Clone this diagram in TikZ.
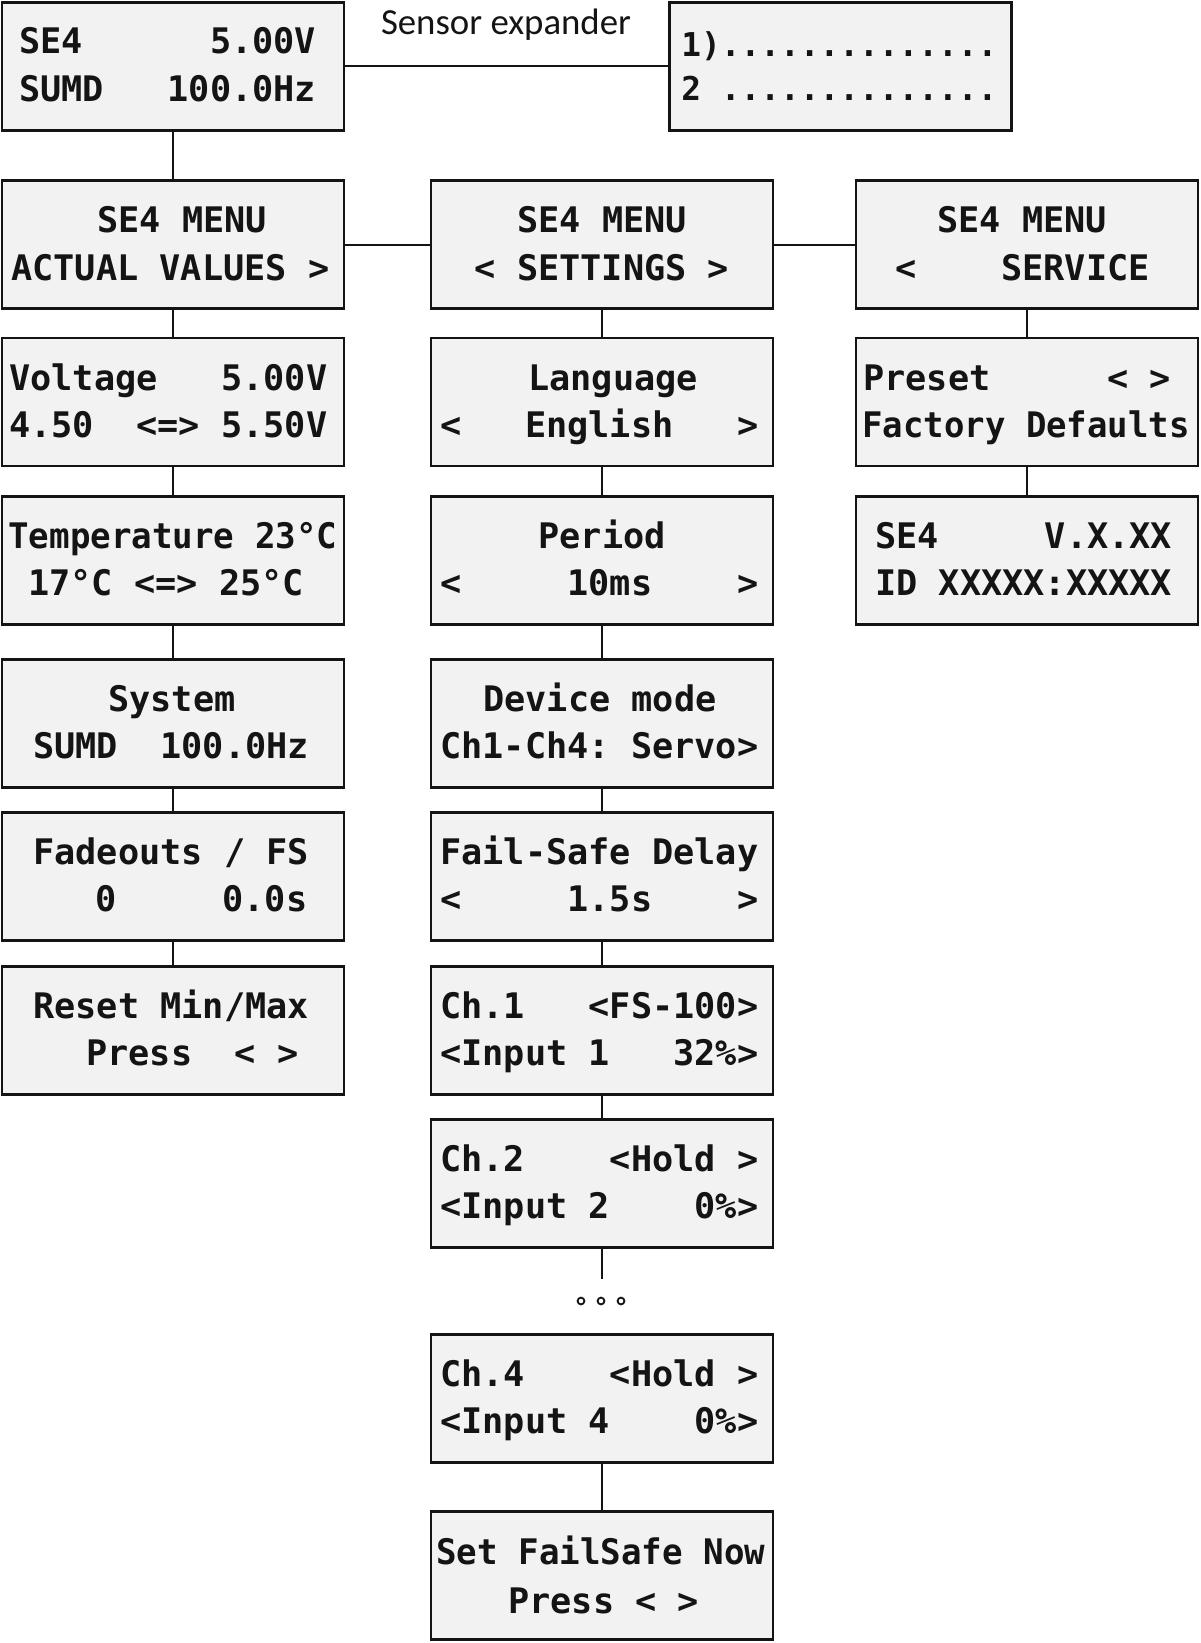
\documentclass[tikz,border=0pt]{standalone}
\usepackage{fontspec}
\usepackage{graphicx}
\newfontfamily\lcdfont{DejaVu Sans Mono}
\newfontfamily\labfont{Carlito}
\definecolor{lcdgray}{RGB}{242,242,242}
\definecolor{ink}{RGB}{20,20,20}
\tikzset{
  lcd/.style={draw=ink, line width=1.4pt, fill=lcdgray, minimum width=171pt, minimum height=64pt, inner sep=0pt},
  lcdt/.style={inner sep=0pt, anchor=base west, text=ink, font={\lcdfont\bfseries\fontsize{17.6pt}{20pt}\selectfont}},
  lcds/.style={inner sep=0pt, anchor=base west, text=ink, font={\lcdfont\bfseries\fontsize{16.4pt}{20pt}\selectfont}},
  conn/.style={line width=1pt, draw=ink},
  ellip/.style={circle, draw=ink, line width=0.9pt, minimum size=3.4pt, inner sep=0pt}
}
\newcommand\nar[1]{\scalebox{0.97}[1]{#1}}
\begin{document}
\begin{tikzpicture}[x=0.5pt,y=-0.5pt]
\useasboundingbox (0,0) rectangle (1200,1643);
% boxes
\node[lcd] (top) at (173,66.5) {};
\node[lcd] (exp) at (840.5,66.5) {};
\node[lcd] (c1a) at (173,244.5) {};
\node[lcd] (c1b) at (173,402) {};
\node[lcd] (c1c) at (173,560.5) {};
\node[lcd] (c1d) at (173,723.5) {};
\node[lcd] (c1e) at (173,876.5) {};
\node[lcd] (c1f) at (173,1030.5) {};
\node[lcd] (c2a) at (602,244.5) {};
\node[lcd] (c2b) at (602,402) {};
\node[lcd] (c2c) at (602,560.5) {};
\node[lcd] (c2d) at (602,723.5) {};
\node[lcd] (c2e) at (602,876.5) {};
\node[lcd] (c2f) at (602,1030.5) {};
\node[lcd] (c2g) at (602,1183.5) {};
\node[lcd] (c2h) at (602,1398.5) {};
\node[lcd] (c2i) at (602,1575.5) {};
\node[lcd] (c3a) at (1027,244.5) {};
\node[lcd] (c3b) at (1027,402) {};
\node[lcd] (c3c) at (1027,560.5) {};
% connectors
\draw[conn] (top.east) -- (exp.west);
\draw[conn] (top.south) -- (c1a.north);
\draw[conn] (c1a.east) -- (c2a.west);
\draw[conn] (c2a.east) -- (c3a.west);
\draw[conn] (c1a.south) -- (c1b.north);
\draw[conn] (c1b.south) -- (c1c.north);
\draw[conn] (c1c.south) -- (c1d.north);
\draw[conn] (c1d.south) -- (c1e.north);
\draw[conn] (c1e.south) -- (c1f.north);
\draw[conn] (c2a.south) -- (c2b.north);
\draw[conn] (c2b.south) -- (c2c.north);
\draw[conn] (c2c.south) -- (c2d.north);
\draw[conn] (c2d.south) -- (c2e.north);
\draw[conn] (c2e.south) -- (c2f.north);
\draw[conn] (c2f.south) -- (c2g.north);
\coordinate (gend) at (602,1279);
\draw[conn] (c2g.south) -- (gend);
\draw[conn] (c2h.south) -- (c2i.north);
\draw[conn] (c3a.south) -- (c3b.north);
\draw[conn] (c3b.south) -- (c3c.north);
% ellipsis
\node[ellip] (d1) at (581,1301) {};
\node[ellip] (d2) at (601,1301) {};
\node[ellip] (d3) at (621,1301) {};
% label
\node[inner sep=0pt, anchor=base, text=ink, font={\labfont\fontsize{18.4pt}{22pt}\selectfont}] (lab) at (506,35) {Sensor expander};
% texts: top
\node[lcdt] (t01) at (19,54) {SE4~~~~~~5.00V};
\node[lcdt] (t02) at (19,102) {SUMD~~~100.0Hz};
\node[lcds] (t03) at (681,57) {1)..............};
\node[lcds] (t04) at (681,101) {2~..............};
% column 1
\node[lcdt] (t11) at (97,232) {SE4~MENU};
\node[lcdt] (t12) at (11,280) {ACTUAL~VALUES~>};
\node[lcdt] (t13) at (9,390) {Voltage~~~5.00V};
\node[lcdt] (t14) at (9,437) {4.50~~<=>~5.50V};
\node[lcdt] (t15) at (8,548) {\nar{Temperature~23°C}};
\node[lcdt] (t16) at (28,595) {17°C~<=>~25°C};
\node[lcdt] (t17) at (108,711) {System};
\node[lcdt] (t18) at (33,758) {SUMD~~100.0Hz};
\node[lcdt] (t19) at (33,864) {Fadeouts~/~FS};
\node[lcdt] (t1a) at (95,911) {0~~~~~0.0s};
\node[lcdt] (t1b) at (33,1018) {Reset~Min/Max};
\node[lcdt] (t1c) at (86,1065) {Press~~<~>};
% column 2
\node[lcdt, anchor=base] (t21) at (602,232) {SE4~MENU};
\node[lcdt, anchor=base] (t22) at (602,280) {<~SETTINGS~>};
\node[lcdt] (t23) at (528,390) {Language};
\node[lcdt] (t24) at (440,437) {<~~~English~~~>};
\node[lcdt, anchor=base] (t25) at (602,548) {Period};
\node[lcdt] (t26) at (440,595) {<~~~~~10ms~~~~>};
\node[lcdt] (t27) at (483,711) {Device~mode};
\node[lcdt] (t28) at (440,758) {Ch1-Ch4:~Servo>};
\node[lcdt] (t29) at (440,864) {Fail-Safe~Delay};
\node[lcdt] (t2a) at (440,911) {<~~~~~1.5s~~~~>};
\node[lcdt] (t2b) at (440,1018) {Ch.1~~~<FS-100>};
\node[lcdt] (t2c) at (440,1065) {<Input~1~~~32\%>};
\node[lcdt] (t2d) at (440,1171) {Ch.2~~~~<Hold~>};
\node[lcdt] (t2e) at (440,1218) {<Input~2~~~~0\%>};
\node[lcdt] (t2f) at (440,1386) {Ch.4~~~~<Hold~>};
\node[lcdt] (t2g) at (440,1433) {<Input~4~~~~0\%>};
\node[lcdt] (t2h) at (436,1564) {\nar{Set~FailSafe~Now}};
\node[lcdt] (t2i) at (508,1613) {Press~<~>};
% column 3
\node[lcdt] (t31) at (937,232) {SE4~MENU};
\node[lcdt] (t32) at (895,280) {<~~~~SERVICE};
\node[lcdt] (t33) at (863,390) {Preset};
\node[lcdt] (t34) at (1107,390) {<~>};
\node[lcdt] (t35) at (862,437) {\scalebox{0.965}[1]{Factory~Defaults}};
\node[lcdt] (t36) at (875,548) {SE4~~~~~V.X.XX};
\node[lcdt] (t37) at (875,595) {ID~XXXXX:XXXXX};
\end{tikzpicture}
\end{document}
